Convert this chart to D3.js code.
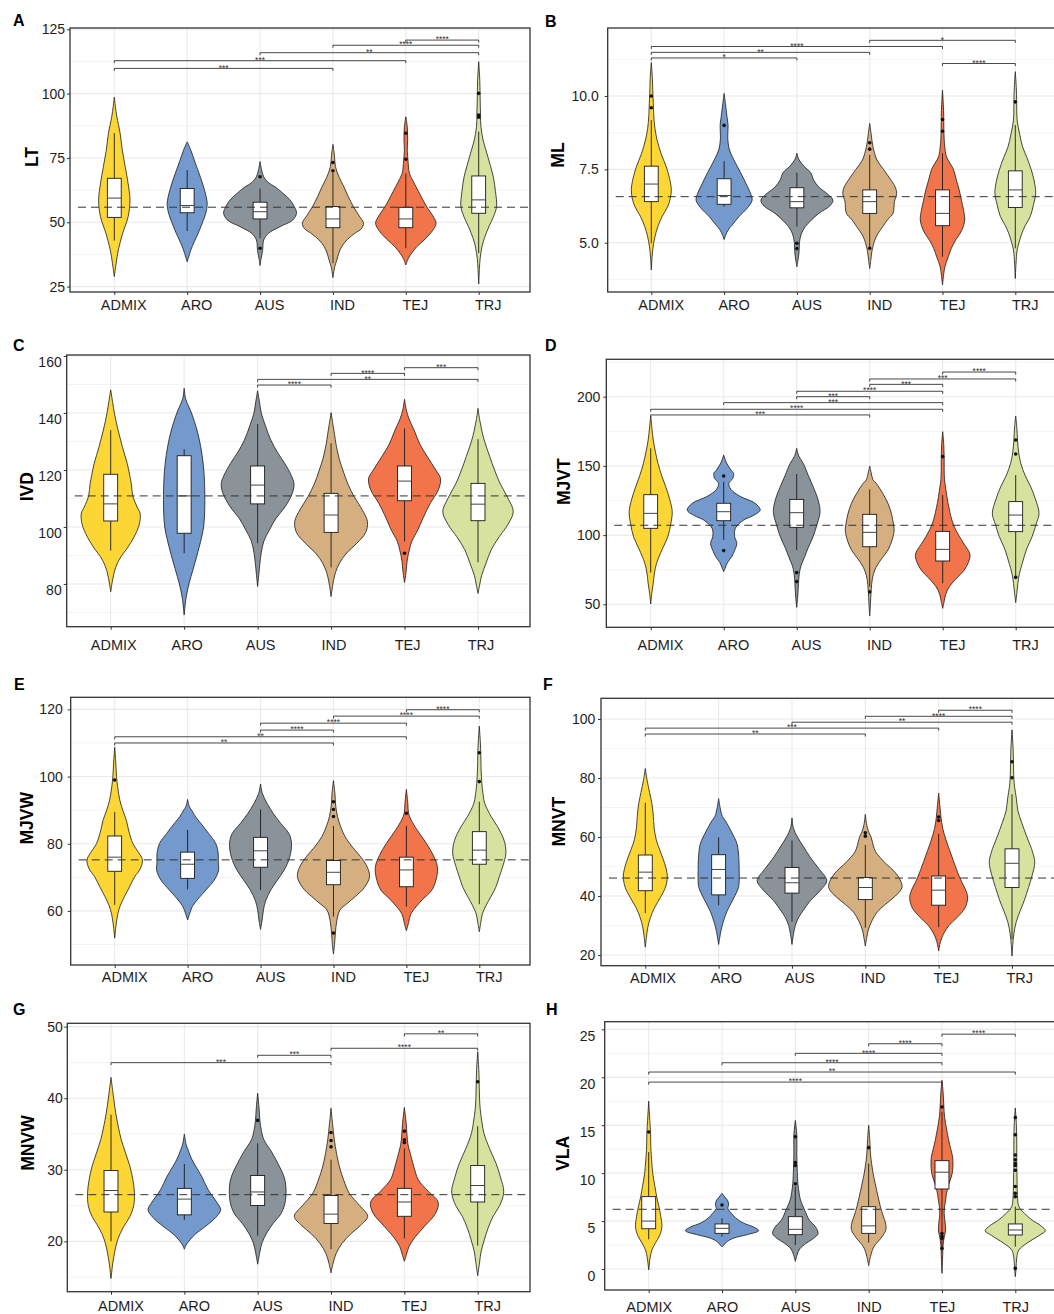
<!DOCTYPE html>
<html>
<head>
<meta charset="utf-8">
<script src="https://cdn.jsdelivr.net/npm/d3@7"></script>
<style>
  body { margin: 0; background: #fff; }
  svg { display: block; }
</style>
</head>
<body>
<svg id="fig" width="1054" height="1314"></svg>
<script>
// ---------------------------------------------------------------------------
// Groups and their fill colours
// ---------------------------------------------------------------------------
const groups = ["ADMIX", "ARO", "AUS", "IND", "TEJ", "TRJ"];
const groupColors = ["#FCD634", "#7399CD", "#8A9399", "#D5AF80", "#F1744A", "#D7E29E"];

// Violin outlines: [value, relative density] from top to bottom, one list per group.
// Boxes: [lower whisker, Q1, median, Q3, upper whisker].
// Tests: [group a, group b, significance, bracket height].

// ---- LT ----
const ltTicks = [25, 50, 75, 100, 125];
const ltMean = 55.85;
const ltViolin = [
  [[98.6,0],[95,0.03],[91,0.07],[84.6,0.16],[78,0.22],[71.6,0.3],[65,0.38],[58.7,0.43],[52.2,0.38],[45.7,0.23],[39.2,0.11],[34,0.05],[28.9,0]],
  [[81.3,0],[78,0.1],[74,0.2],[71.6,0.26],[66,0.4],[60,0.52],[57,0.55],[53,0.5],[48.5,0.38],[45.7,0.3],[42,0.18],[39.2,0.1],[36.5,0.04],[34.7,0]],
  [[73.6,0],[70.5,0.04],[67.7,0.1],[65.5,0.22],[63.8,0.41],[61,0.65],[58.7,0.82],[55.5,0.96],[53.5,1.0],[50.9,0.9],[48.3,0.55],[45.7,0.23],[43.1,0.1],[39,0.07],[36,0.03],[33.2,0]],
  [[80.3,0],[76,0.04],[71.6,0.07],[67.5,0.17],[63.8,0.3],[60,0.42],[56.1,0.56],[52.5,0.72],[49.6,0.84],[47.5,0.78],[45.7,0.6],[43.1,0.38],[40.5,0.24],[38,0.16],[35,0.1],[32.8,0.05],[28.5,0]],
  [[91,0],[87,0.04],[82,0.05],[78,0.04],[74,0.06],[69,0.1],[66,0.2],[63.8,0.28],[60,0.42],[56.1,0.57],[52.5,0.74],[49.6,0.83],[46.5,0.72],[43.1,0.5],[40.5,0.3],[38,0.16],[36,0.07],[33.4,0]],
  [[112.4,0],[105,0.03],[97.5,0.04],[92,0.05],[87.2,0.06],[82,0.12],[78,0.2],[72,0.32],[67.7,0.4],[62,0.46],[56.1,0.49],[52,0.4],[48.3,0.28],[44,0.16],[40.5,0.09],[36,0.04],[32,0.02],[26,0]]
];
const ltBox = [[42.9,51.9,59.4,67.1,84.6],[46.6,53.7,56.5,63.1,70.3],[43.8,51.3,54.1,57.8,63.2],[34.1,47.9,51.3,56.1,69.3],[39.9,47.9,51.3,55.8,69.0],[38.0,53.5,58.7,68.0,85.2]];
const ltOutliers = [[],[],[67.7,39.9],[73.2,70.0],[84.6,74.5],[100.1,91.7,90.8]];
const ltTests = [["ADMIX","IND","***",109.8],["ADMIX","TEJ","***",112.8],["AUS","TRJ","**",115.9],["IND","TRJ","****",118.8],["TEJ","TRJ","****",120.8]];

// ---- ML ----
const mlTicks = [5.0, 7.5, 10.0];
const mlMean = 6.57;
const mlViolin = [
  [[11.14,0],[10.6,0.03],[10.2,0.04],[9.6,0.06],[9.3,0.07],[8.9,0.1],[8.5,0.16],[8.0,0.28],[7.59,0.41],[7.2,0.5],[6.8,0.55],[6.5,0.52],[6.23,0.45],[5.9,0.3],[5.55,0.18],[5.2,0.1],[4.86,0.05],[4.5,0.02],[4.07,0]],
  [[10.09,0],[9.7,0.04],[9.3,0.08],[9.0,0.11],[8.6,0.1],[8.2,0.14],[7.82,0.27],[7.4,0.45],[7.02,0.6],[6.7,0.72],[6.45,0.77],[6.2,0.65],[5.89,0.41],[5.6,0.22],[5.43,0.11],[5.25,0.04],[5.11,0]],
  [[8.05,0],[7.85,0.05],[7.6,0.2],[7.39,0.38],[7.14,0.46],[6.9,0.6],[6.65,0.85],[6.45,0.99],[6.25,0.9],[6.0,0.6],[5.75,0.38],[5.55,0.23],[5.3,0.12],[5.0,0.07],[4.7,0.06],[4.4,0.03],[4.18,0]],
  [[9.07,0],[8.7,0.04],[8.27,0.09],[7.82,0.2],[7.5,0.38],[7.2,0.55],[6.9,0.7],[6.68,0.74],[6.4,0.68],[6.0,0.64],[5.8,0.5],[5.55,0.36],[5.3,0.22],[5.09,0.14],[4.7,0.06],[4.4,0.03],[4.12,0]],
  [[10.2,0],[9.5,0.03],[8.73,0.04],[8.3,0.06],[7.93,0.11],[7.5,0.3],[7.14,0.38],[6.8,0.46],[6.45,0.52],[6.1,0.58],[5.77,0.61],[5.4,0.52],[5.09,0.36],[4.8,0.24],[4.52,0.16],[4.2,0.07],[3.9,0.03],[3.56,0]],
  [[10.83,0],[10.2,0.03],[9.6,0.04],[9.18,0.05],[8.7,0.12],[8.27,0.2],[7.9,0.32],[7.48,0.44],[7.1,0.52],[6.68,0.56],[6.3,0.5],[5.89,0.41],[5.6,0.28],[5.32,0.18],[5.0,0.1],[4.75,0.05],[4.3,0.02],[3.78,0]]
];
const mlBox = [[4.98,6.40,7.0,7.61,9.18],[6.23,6.31,6.61,7.18,7.78],[5.55,6.19,6.40,6.875,7.39],[4.81,6.0,6.40,6.8,7.99],[4.52,5.58,6.0,6.8,8.05],[4.81,6.2,6.8,7.45,9.01]];
const mlOutliers = [[10.0,9.6],[9.0],[4.98,4.8],[8.41,8.19,4.81],[9.2,8.8],[9.8]];
const mlTests = [["ADMIX","AUS","*",11.30],["ADMIX","IND","**",11.49],["ADMIX","TEJ","****",11.69],["IND","TRJ","*",11.90],["TEJ","TRJ","****",11.11]];

// ---- IVD ----
const ivdTicks = [80, 100, 120, 140, 160];
const ivdMean = 110.9;
const ivdViolin = [
  [[148.1,0],[144,0.05],[140,0.1],[134,0.2],[128,0.32],[122.3,0.45],[118,0.52],[115.3,0.56],[111,0.6],[107,0.72],[104.8,0.8],[101,0.78],[96.6,0.64],[92,0.42],[89.6,0.28],[86,0.14],[82,0.06],[77.3,0]],
  [[148.7,0],[145,0.04],[140,0.2],[134,0.35],[128.2,0.45],[122,0.52],[117,0.55],[113,0.56],[106,0.56],[100,0.53],[95,0.45],[90,0.35],[85,0.24],[80,0.13],[75,0.05],[69.1,0]],
  [[147.8,0],[144,0.05],[140,0.1],[136,0.2],[130.5,0.36],[126,0.55],[122.3,0.74],[118,0.92],[115.3,0.99],[112,0.95],[107.1,0.75],[103,0.5],[98.9,0.32],[95,0.17],[91,0.1],[87,0.06],[83,0.03],[79.1,0]],
  [[140.1,0],[136,0.05],[132,0.1],[129.4,0.13],[124,0.22],[120,0.32],[115,0.46],[110.6,0.63],[106,0.85],[101.9,0.99],[98,0.94],[94.3,0.7],[90.5,0.4],[87.3,0.23],[84,0.12],[80,0.05],[75.6,0]],
  [[144.8,0],[141,0.05],[138,0.12],[134,0.26],[129,0.42],[124.7,0.62],[120,0.85],[117,0.98],[113,0.92],[108.3,0.7],[103,0.5],[98.9,0.36],[95,0.2],[91.9,0.13],[88,0.07],[84,0.04],[80.5,0]],
  [[141.6,0],[138,0.04],[134,0.1],[130,0.18],[124.7,0.32],[120,0.45],[115.3,0.6],[110,0.82],[105.4,0.96],[101,0.82],[96.6,0.58],[92,0.36],[87.3,0.22],[83,0.1],[80,0.05],[76.7,0]]
];
const ivdBox = [[91.7,102.1,108.1,118.5,134],[90.8,97.8,110.9,125,127.3],[94.3,108.1,114.7,121.4,136.1],[85.8,98.1,104.2,111.8,129.4],[94.9,109.2,116.1,121.4,134.6],[87.6,102.2,108,115.3,130.8]];
const ivdOutliers = [[],[],[],[],[90.8],[]];
const ivdTests = [["AUS","IND","****",149.8],["AUS","TRJ","**",151.8],["IND","TEJ","****",153.9],["TEJ","TRJ","***",155.9]];

// ---- MJVT ----
const mjvtTicks = [50, 100, 150, 200];
const mjvtMean = 107.1;
const mjvtViolin = [
  [[186,0],[178,0.03],[168.7,0.07],[160,0.13],[151.8,0.2],[143,0.3],[135,0.41],[126,0.52],[116.9,0.59],[108,0.55],[98.9,0.47],[90,0.32],[79.6,0.16],[72,0.1],[65.2,0.07],[58,0.03],[50.2,0]],
  [[157.9,0],[152,0.08],[147,0.2],[144.6,0.27],[141,0.25],[137.4,0.14],[133,0.2],[128,0.45],[123,0.86],[118.1,1.0],[114,0.8],[110.9,0.55],[105,0.32],[99,0.3],[94,0.36],[89,0.3],[84.4,0.22],[80,0.1],[76,0.04],[73.6,0]],
  [[162.7,0],[157,0.06],[151.8,0.18],[143,0.32],[135,0.45],[126,0.58],[116.9,0.64],[108,0.56],[98.9,0.45],[90,0.3],[84.4,0.22],[78,0.12],[72,0.07],[65,0.05],[56,0.03],[47.8,0]],
  [[149.9,0],[145,0.04],[140,0.09],[137.4,0.18],[130,0.36],[123,0.5],[115,0.6],[108,0.65],[103.7,0.67],[97,0.62],[89.2,0.5],[82,0.3],[74.8,0.14],[68,0.07],[60,0.04],[50,0.02],[41.6,0]],
  [[174.7,0],[165,0.03],[156,0.04],[148,0.04],[140,0.05],[134,0.08],[127,0.12],[120,0.17],[111,0.25],[103.7,0.36],[95,0.55],[89,0.7],[85.6,0.75],[80,0.7],[74.8,0.59],[68,0.35],[62.7,0.18],[57,0.08],[52,0.04],[47.1,0]],
  [[186,0],[178,0.03],[168.7,0.05],[160,0.08],[151.8,0.14],[143,0.26],[135,0.41],[126,0.54],[115.7,0.64],[108,0.56],[98.9,0.45],[90,0.3],[79.6,0.18],[72,0.1],[65,0.06],[58,0.03],[51.2,0]]
];
const mjvtBox = [[72.9,104.9,115.7,129.2,162.7],[96.5,110.4,116.9,123,138.6],[89.2,105.6,116.2,125.8,144.1],[62.7,91.6,102,115,133.1],[65.2,81.3,89.7,102.7,129],[70,102.5,114.5,124.2,143.4]];
const mjvtOutliers = [[],[142.7,88.8],[72.9,66.4],[59],[156.7],[168.7,158.6,69.5]];
const mjvtTests = [["ADMIX","IND","***",186.8],["ADMIX","TEJ","****",190.9],["ARO","TEJ","***",195.7],["AUS","IND","***",200],["AUS","TEJ","****",203.9],["IND","TEJ","***",208.9],["IND","TRJ","***",212.8],["TEJ","TRJ","****",217.8]];

// ---- MJVW ----
const mjvwTicks = [60, 80, 100, 120];
const mjvwMean = 75.2;
const mjvwViolin = [
  [[108.7,0],[104,0.03],[100,0.05],[97,0.08],[93,0.14],[90,0.22],[87,0.32],[84.1,0.38],[80,0.5],[77.5,0.65],[75.2,0.76],[72.5,0.7],[70.2,0.55],[67,0.4],[64.3,0.27],[61.5,0.15],[59.3,0.09],[56,0.04],[51.9,0]],
  [[93.2,0],[91,0.05],[90,0.11],[88,0.22],[86.1,0.36],[83,0.58],[80.1,0.77],[77,0.84],[74.5,0.84],[72.2,0.85],[69.5,0.75],[66.2,0.5],[63.5,0.28],[61.3,0.13],[59,0.05],[57.3,0]],
  [[97.8,0],[95,0.05],[92,0.18],[89,0.35],[86.1,0.55],[83,0.78],[80.1,0.85],[76,0.8],[72.2,0.65],[69,0.45],[66.2,0.28],[63,0.14],[60.3,0.08],[57,0.04],[54.5,0]],
  [[98.8,0],[95,0.04],[91.5,0.06],[88.1,0.11],[85,0.2],[82.1,0.32],[79,0.52],[76.2,0.74],[73,0.93],[70.2,0.99],[67,0.85],[64.3,0.6],[62,0.35],[60.3,0.18],[57,0.09],[53,0.05],[50,0.03],[47.2,0]],
  [[96.2,0],[92,0.04],[89,0.06],[87.1,0.13],[84,0.3],[80.1,0.55],[76.5,0.74],[73.2,0.85],[70,0.83],[66.2,0.7],[63.5,0.45],[61.3,0.27],[59,0.12],[56.5,0.06],[54.1,0]],
  [[115,0],[110,0.03],[107,0.04],[102,0.05],[98,0.07],[95,0.1],[92,0.15],[88,0.33],[85.1,0.5],[81,0.68],[77.2,0.73],[73.5,0.65],[70.2,0.55],[67,0.45],[64.3,0.32],[61.5,0.18],[59.3,0.09],[56.5,0.04],[53.8,0]]
];
const mjvwBox = [[61.8,71.8,76,82.3,89.4],[66.4,69.7,73.9,77.5,84.1],[66.2,73,77.9,81.9,90.2],[58.3,67.8,71.5,75,85.3],[61.3,67.2,72.2,76,85.3],[62,73.9,78.1,83.6,92.5]];
const mjvwOutliers = [[99],[],[],[92.5,90.2,88.1,53.4],[89.1],[107.1,98.5]];
const mjvwTests = [["ADMIX","IND","**",110.0],["ADMIX","TEJ","**",111.85],["AUS","IND","****",113.84],["AUS","TEJ","****",115.9],["IND","TRJ","****",118.0],["TEJ","TRJ","****",119.9]];

// ---- MNVT ----
const mnvtTicks = [20, 40, 60, 80, 100];
const mnvtMean = 46.1;
const mnvtViolin = [
  [[83.2,0],[79.2,0.05],[75,0.12],[71.3,0.18],[67,0.22],[63.3,0.24],[59,0.3],[55.4,0.4],[51,0.53],[48,0.59],[46.3,0.6],[43,0.55],[39.5,0.41],[36,0.25],[32.7,0.14],[29.5,0.07],[26,0.03],[22.7,0]],
  [[73,0],[70,0.04],[67,0.1],[65.6,0.18],[62,0.34],[57.7,0.5],[53,0.55],[48.6,0.56],[45,0.56],[42.9,0.54],[39,0.4],[34.9,0.23],[31,0.12],[28,0.06],[23.6,0]],
  [[66.5,0],[63,0.04],[60,0.15],[57,0.3],[53.1,0.5],[49,0.75],[45.2,0.95],[42,0.78],[38.4,0.5],[35,0.3],[32.7,0.18],[30,0.09],[27,0.04],[23.6,0]],
  [[67.7,0],[64,0.04],[61.5,0.1],[59.9,0.16],[57,0.22],[55,0.28],[53.1,0.4],[50.5,0.6],[48.6,0.77],[45.5,0.95],[42.9,1.0],[40,0.82],[37.2,0.55],[34.5,0.32],[31.6,0.18],[28.5,0.08],[26,0.04],[23.1,0]],
  [[74.9,0],[71,0.03],[67,0.06],[63,0.11],[59,0.2],[55.5,0.3],[52,0.4],[48.6,0.5],[45,0.62],[42,0.74],[39.5,0.79],[36,0.72],[32.7,0.5],[30,0.28],[27.1,0.13],[24.5,0.05],[21.4,0]],
  [[96.3,0],[90,0.03],[85,0.04],[80,0.05],[77,0.07],[73,0.12],[69,0.16],[65,0.26],[59.9,0.41],[55,0.56],[51.4,0.62],[47,0.55],[42.9,0.45],[38,0.32],[34.9,0.22],[31,0.11],[27.1,0.05],[23.5,0.02],[19.7,0]]
];
const mnvtBox = [[34.2,41.8,48.1,53.9,71.6],[36.9,40.4,49,54,59.9],[31.3,41,44.5,49.7,58.8],[29.3,38.8,42.9,46.3,57.3],[29.5,36.9,42,46.8,61.1],[25.3,42.9,51.1,56,74.5]];
const mnvtOutliers = [[],[],[],[61.4,60.3],[66.8,65.6],[85.5,80.1]];
const mnvtTests = [["ADMIX","IND","**",94.9],["ADMIX","TEJ","***",96.9],["AUS","TRJ","**",98.9],["IND","TRJ","****",100.9],["TEJ","TRJ","****",102.95]];

// ---- MNVW ----
const mnvwTicks = [20, 30, 40, 50];
const mnvwMean = 26.52;
const mnvwViolin = [
  [[42.9,0],[40.5,0.06],[37.9,0.13],[36,0.2],[34.2,0.28],[32.3,0.4],[30.4,0.52],[28.5,0.6],[26.7,0.64],[25,0.62],[23.5,0.52],[22,0.34],[20.2,0.18],[18.5,0.1],[17,0.05],[14.8,0]],
  [[35,0],[33.5,0.05],[32.8,0.1],[31.5,0.2],[30.4,0.32],[29,0.48],[27.2,0.65],[25.5,0.88],[24.4,0.99],[23.3,0.85],[22.1,0.58],[21,0.3],[20.2,0.15],[19.5,0.05],[18.9,0]],
  [[40.7,0],[38.5,0.04],[36.9,0.06],[35.5,0.1],[34.2,0.17],[32.5,0.38],[30.4,0.6],[29,0.72],[27.6,0.77],[25.5,0.75],[23.9,0.64],[22.5,0.42],[21.1,0.24],[19.8,0.12],[18.5,0.06],[16.8,0]],
  [[38.6,0],[36.5,0.04],[34.2,0.09],[32.3,0.15],[30.4,0.23],[28.5,0.35],[26.7,0.5],[25,0.78],[23.5,1.0],[22.2,0.8],[21.1,0.55],[19.7,0.3],[18.3,0.14],[17,0.06],[15.6,0]],
  [[38.7,0],[36.5,0.05],[35,0.07],[33.5,0.1],[32.3,0.16],[30.4,0.26],[28.6,0.38],[27,0.65],[25.5,0.92],[24,0.86],[22.1,0.55],[20.5,0.28],[19.3,0.13],[18.2,0.06],[17.2,0]],
  [[46.5,0],[44,0.03],[42.3,0.04],[40,0.05],[38.4,0.07],[36.5,0.12],[35.1,0.17],[33,0.32],[30.9,0.5],[29,0.62],[26.9,0.71],[25,0.6],[23.5,0.42],[21.8,0.28],[20.2,0.18],[18.5,0.09],[17,0.05],[15.2,0]]
];
const mnvwBox = [[20,24.1,27.1,29.9,37.7],[23,23.7,25.9,27.4,30.8],[20.8,25,26.9,29.2,33.7],[18.9,22.5,23.8,26.4,31.4],[20.4,23.5,25.5,27.4,33],[19.4,25.5,27.8,30.6,36.1]];
const mnvwOutliers = [[],[],[36.9],[35.2,34.1,33.2],[35.4,34.2,33.8],[42.3]];
const mnvwTests = [["ADMIX","IND","***",44.97],["AUS","IND","***",46.0],["IND","TRJ","****",46.98],["TEJ","TRJ","**",49.0]];

// ---- VLA ----
const vlaTicks = [0, 5, 10, 15, 20, 25];
const vlaMean = 6.23;
const vlaViolin = [
  [[17.5,0],[15.5,0.03],[14.2,0.05],[12.5,0.06],[11.4,0.08],[10,0.11],[8.6,0.17],[7.5,0.22],[6.5,0.28],[5.5,0.33],[4.4,0.36],[3.5,0.3],[2.7,0.18],[2,0.09],[1.2,0.04],[-0.1,0]],
  [[7.9,0],[7.5,0.08],[7.1,0.16],[6.7,0.18],[6.3,0.16],[5.8,0.26],[5.3,0.38],[4.8,0.58],[4.4,0.85],[4.0,1.0],[3.6,0.7],[3.2,0.3],[2.8,0.12],[2.5,0.05],[2.3,0]],
  [[15.5,0],[14,0.04],[12,0.04],[10.5,0.05],[8.9,0.07],[8,0.1],[7.2,0.14],[6.2,0.25],[5.1,0.38],[4.4,0.55],[3.7,0.62],[3.2,0.5],[2.7,0.3],[2.1,0.12],[1.5,0.05],[0.8,0]],
  [[15,0],[13.5,0.03],[12,0.05],[11,0.08],[10,0.12],[8.9,0.18],[7.5,0.26],[6.5,0.32],[5.5,0.4],[4.8,0.46],[4.1,0.47],[3.3,0.35],[2.3,0.14],[1.3,0.05],[0.35,0]],
  [[19.7,0],[18.5,0.03],[17,0.05],[15.9,0.07],[14.5,0.13],[13.5,0.18],[12.5,0.24],[11.7,0.29],[10.85,0.3],[10,0.28],[9.2,0.22],[8.6,0.17],[7.8,0.12],[7.2,0.1],[6.5,0.07],[5.8,0.06],[5,0.08],[4.1,0.1],[3.3,0.06],[2.5,0.03],[1.5,0.02],[-0.45,0]],
  [[16.8,0],[15,0.03],[13,0.04],[11,0.04],[9,0.05],[7.5,0.06],[6.5,0.1],[5.8,0.25],[5.1,0.46],[4.5,0.7],[4.0,0.82],[3.5,0.65],[2.7,0.32],[2,0.1],[1.2,0.04],[0,0.02],[-0.8,0]]
];
const vlaBox = [[3.1,4.2,5.0,7.55,12.2],[3.37,3.72,4.24,4.7,5.3],[2.5,3.58,4.14,5.46,8.6],[2.75,3.72,4.5,6.5,11],[2.2,8.35,10.1,11.3,16.4],[2.33,3.55,4.07,4.7,6.5]];
const vlaOutliers = [[14.3],[6.68],[13.8,11.1,10.8,8.9],[12.66],[16.9,3.7,3.4,3.2,2.15],[15.8,14,11.9,11.4,11.0,10.8,10.3,8.6,7.9,7.55,0.07]];
const vlaTests = [["ADMIX","TEJ","****",19.5],["ADMIX","TRJ","**",20.55],["ARO","TEJ","****",21.52],["AUS","TEJ","****",22.5],["IND","TEJ","****",23.5],["TEJ","TRJ","****",24.5]];

// ---------------------------------------------------------------------------
// Panel layout (frame in px, y-domain, first/last category centre, label tweaks)
// ---------------------------------------------------------------------------
const FONT = "'Liberation Sans', Arial, Helvetica, sans-serif";
const fmt1 = d3.format(".1f");
const panels = [
  { key: "A", trait: "LT",   violin: ltViolin,   box: ltBox,   out: ltOutliers,   tests: ltTests,   ticks: ltTicks,   mean: ltMean,   fmt: d3.format("d"),
    domain: [22.9, 125.5], frame: [70, 28, 530, 292],      xs: [114.3, 478.7], labelDx: 9,   labelY: 310,   tickGap: 5, tickDy: 0, title: [38, 157],     letter: [13, 26] },
  { key: "B", trait: "ML",   violin: mlViolin,   box: mlBox,   out: mlOutliers,   tests: mlTests,   ticks: mlTicks,   mean: mlMean,   fmt: fmt1,
    domain: [3.32, 12.32], frame: [607.7, 28, 1070, 292],  xs: [651.3, 1015.3], labelDx: 9.5, labelY: 310,  tickGap: 9, tickDy: 0, title: [563.5, 155],  letter: [545, 27] },
  { key: "C", trait: "IVD",  violin: ivdViolin,  box: ivdBox,  out: ivdOutliers,  tests: ivdTests,  ticks: ivdTicks,  mean: ivdMean,  fmt: d3.format("d"),
    domain: [65.0, 160.35], frame: [66.7, 355, 530, 626.7], xs: [110.7, 478], labelDx: 2.5,   labelY: 650,   tickGap: 5, tickDy: 6, title: [32.5, 486.7], letter: [13, 350.5] },
  { key: "D", trait: "MJVT", violin: mjvtViolin, box: mjvtBox, out: mjvtOutliers, tests: mjvtTests, ticks: mjvtTicks, mean: mjvtMean, fmt: d3.format("d"),
    domain: [33.4, 227], frame: [606.3, 359.3, 1070, 627.3], xs: [650.7, 1015.7], labelDx: 9.3, labelY: 650.5, tickGap: 6, tickDy: 0, title: [570, 481.7], letter: [545, 350.5] },
  { key: "E", trait: "MJVW", violin: mjvwViolin, box: mjvwBox, out: mjvwOutliers, tests: mjvwTests, ticks: mjvwTicks, mean: mjvwMean, fmt: d3.format("d"),
    domain: [43.9, 123.6], frame: [70.7, 697.3, 530, 965], xs: [114.7, 479.3], labelDx: 9.5,  labelY: 982,   tickGap: 8, tickDy: 0, title: [33, 818.3],   letter: [14, 690] },
  { key: "F", trait: "MNVT", violin: mnvtViolin, box: mnvtBox, out: mnvtOutliers, tests: mnvtTests, ticks: mnvtTicks, mean: mnvtMean, fmt: d3.format("d"),
    domain: [16.4, 107], frame: [601, 698.3, 1070, 965.7], xs: [645.3, 1012], labelDx: 7.2,     labelY: 983,   tickGap: 5.7, tickDy: 0, title: [565, 821.7], letter: [543, 690] },
  { key: "G", trait: "MNVW", violin: mnvwViolin, box: mnvwBox, out: mnvwOutliers, tests: mnvwTests, ticks: mnvwTicks, mean: mnvwMean, fmt: d3.format("d"),
    domain: [12.96, 50.47], frame: [67.3, 1023.3, 530, 1291.7], xs: [111, 477.7], labelDx: 9.5, labelY: 1311.5, tickGap: 4.6, tickDy: 0, title: [34, 1143], letter: [13, 1015] },
  { key: "H", trait: "VLA",  violin: vlaViolin,  box: vlaBox,  out: vlaOutliers,  tests: vlaTests,  ticks: vlaTicks,  mean: vlaMean,  fmt: d3.format("d"),
    domain: [-2.19, 25.8], frame: [604.7, 1021.7, 1070, 1290], xs: [648.7, 1015.3], labelDx: 0, labelY: 1311.5, tickGap: 9.4, tickDy: 7, title: [568.5, 1153.3], letter: [546, 1015] }
];

const svg = d3.select("#fig");
const defs = svg.append("defs");

panels.forEach(drawPanel);

function drawPanel(p) {
  const [fx0, fy0, fx1, fy1] = p.frame;
  const y = d3.scaleLinear().domain(p.domain).range([fy1, fy0]);
  const x = d3.scalePoint().domain(groups).range(p.xs);
  const step = x.step();
  const halfWidth = d3.scaleLinear().domain([0, 1]).range([0, step * 0.5]);
  const boxHalf = step * 0.095;

  const g = svg.append("g").attr("class", "panel-" + p.key);

  defs.append("clipPath").attr("id", "clip-" + p.key)
    .append("rect").attr("x", fx0).attr("y", fy0).attr("width", fx1 - fx0).attr("height", fy1 - fy0);
  const inner = g.append("g").attr("clip-path", `url(#clip-${p.key})`);

  // grid: minor lines half-way between major ticks
  const tStep = p.ticks[1] - p.ticks[0];
  const minors = d3.range(p.ticks[0] - tStep * 1.5, p.domain[1] + tStep, tStep)
    .filter(v => v > p.domain[0] && v < p.domain[1]);
  inner.selectAll("line.minor").data(minors).join("line")
    .attr("class", "minor")
    .attr("x1", fx0).attr("x2", fx1)
    .attr("y1", d => y(d)).attr("y2", d => y(d))
    .attr("stroke", "#F1F1F1").attr("stroke-width", 0.8);
  inner.selectAll("line.major").data(p.ticks).join("line")
    .attr("class", "major")
    .attr("x1", fx0).attr("x2", fx1)
    .attr("y1", d => y(d)).attr("y2", d => y(d))
    .attr("stroke", "#EAEAEA").attr("stroke-width", 1.1);
  inner.selectAll("line.vgrid").data(groups).join("line")
    .attr("class", "vgrid")
    .attr("x1", d => x(d)).attr("x2", d => x(d))
    .attr("y1", fy0).attr("y2", fy1)
    .attr("stroke", "#EAEAEA").attr("stroke-width", 1.1);

  // violins, boxes, outliers
  const area = d3.area().curve(d3.curveCatmullRom.alpha(0.5)).y(d => y(d[0]));
  groups.forEach((grp, k) => {
    const cx = x(grp);
    area.x0(d => cx - halfWidth(d[1])).x1(d => cx + halfWidth(d[1]));
    inner.append("path")
      .attr("d", area(p.violin[k]))
      .attr("fill", groupColors[k])
      .attr("stroke", "#1a1a1a").attr("stroke-width", 0.8);

    const [lo, q1, med, q3, hi] = p.box[k];
    inner.append("line").attr("x1", cx).attr("x2", cx).attr("y1", y(hi)).attr("y2", y(q3))
      .attr("stroke", "#1a1a1a").attr("stroke-width", 0.9);
    inner.append("line").attr("x1", cx).attr("x2", cx).attr("y1", y(q1)).attr("y2", y(lo))
      .attr("stroke", "#1a1a1a").attr("stroke-width", 0.9);
    inner.append("rect")
      .attr("x", cx - boxHalf).attr("width", boxHalf * 2)
      .attr("y", y(q3)).attr("height", y(q1) - y(q3))
      .attr("fill", "#fff").attr("stroke", "#1a1a1a").attr("stroke-width", 0.9);
    inner.append("line").attr("x1", cx - boxHalf).attr("x2", cx + boxHalf).attr("y1", y(med)).attr("y2", y(med))
      .attr("stroke", "#444").attr("stroke-width", 1);
    inner.selectAll(null).data(p.out[k]).join("circle")
      .attr("cx", cx).attr("cy", d => y(d)).attr("r", 1.8).attr("fill", "#111");
  });

  // significance brackets
  p.tests.forEach(([a, b, lab, v]) => {
    const xa = x(a), xb = x(b), yy = y(v);
    inner.append("path")
      .attr("d", `M${xa},${yy + 2.5}V${yy}H${xb}V${yy + 2.5}`)
      .attr("fill", "none").attr("stroke", "#333").attr("stroke-width", 0.9);
    inner.append("text")
      .attr("x", (xa + xb) / 2).attr("y", yy + 2.2)
      .attr("text-anchor", "middle")
      .attr("font-family", FONT).attr("font-size", 8.5).attr("fill", "#333")
      .text(lab);
  });

  // overall mean, dashed
  inner.append("line")
    .attr("x1", fx0 + 8).attr("x2", fx1)
    .attr("y1", y(p.mean)).attr("y2", y(p.mean))
    .attr("stroke", "#333").attr("stroke-width", 1).attr("stroke-dasharray", "8,5");

  // frame
  g.append("rect")
    .attr("x", fx0).attr("y", fy0).attr("width", fx1 - fx0).attr("height", fy1 - fy0)
    .attr("fill", "none").attr("stroke", "#333").attr("stroke-width", 1.3);

  // y axis
  const yAxis = g.append("g").attr("transform", `translate(${fx0},0)`)
    .call(d3.axisLeft(y).tickValues(p.ticks).tickSize(3).tickPadding(p.tickGap - 3).tickFormat(p.fmt));
  yAxis.select(".domain").remove();
  yAxis.selectAll(".tick line").attr("stroke", "#333");
  yAxis.selectAll(".tick text")
    .attr("font-family", FONT).attr("font-size", 14).attr("fill", "#1e1e1e")
    .attr("y", p.tickDy);

  // x axis
  const xAxis = g.append("g").attr("transform", `translate(0,${fy1})`)
    .call(d3.axisBottom(x).tickSize(3));
  xAxis.select(".domain").remove();
  xAxis.selectAll(".tick line").attr("stroke", "#333");
  xAxis.selectAll(".tick text")
    .attr("font-family", FONT).attr("font-size", 14.5).attr("fill", "#1e1e1e")
    .attr("x", p.labelDx).attr("y", p.labelY - fy1).attr("dy", null);

  // axis title
  g.append("text")
    .attr("transform", `translate(${p.title[0]},${p.title[1]}) rotate(-90)`)
    .attr("text-anchor", "middle")
    .attr("font-family", FONT).attr("font-size", 17.5).attr("font-weight", "bold").attr("fill", "#000")
    .text(p.trait);

  // panel letter
  g.append("text")
    .attr("x", p.letter[0]).attr("y", p.letter[1])
    .attr("font-family", FONT).attr("font-size", 16).attr("font-weight", "bold").attr("fill", "#000")
    .text(p.key);
}
</script>
</body>
</html>
